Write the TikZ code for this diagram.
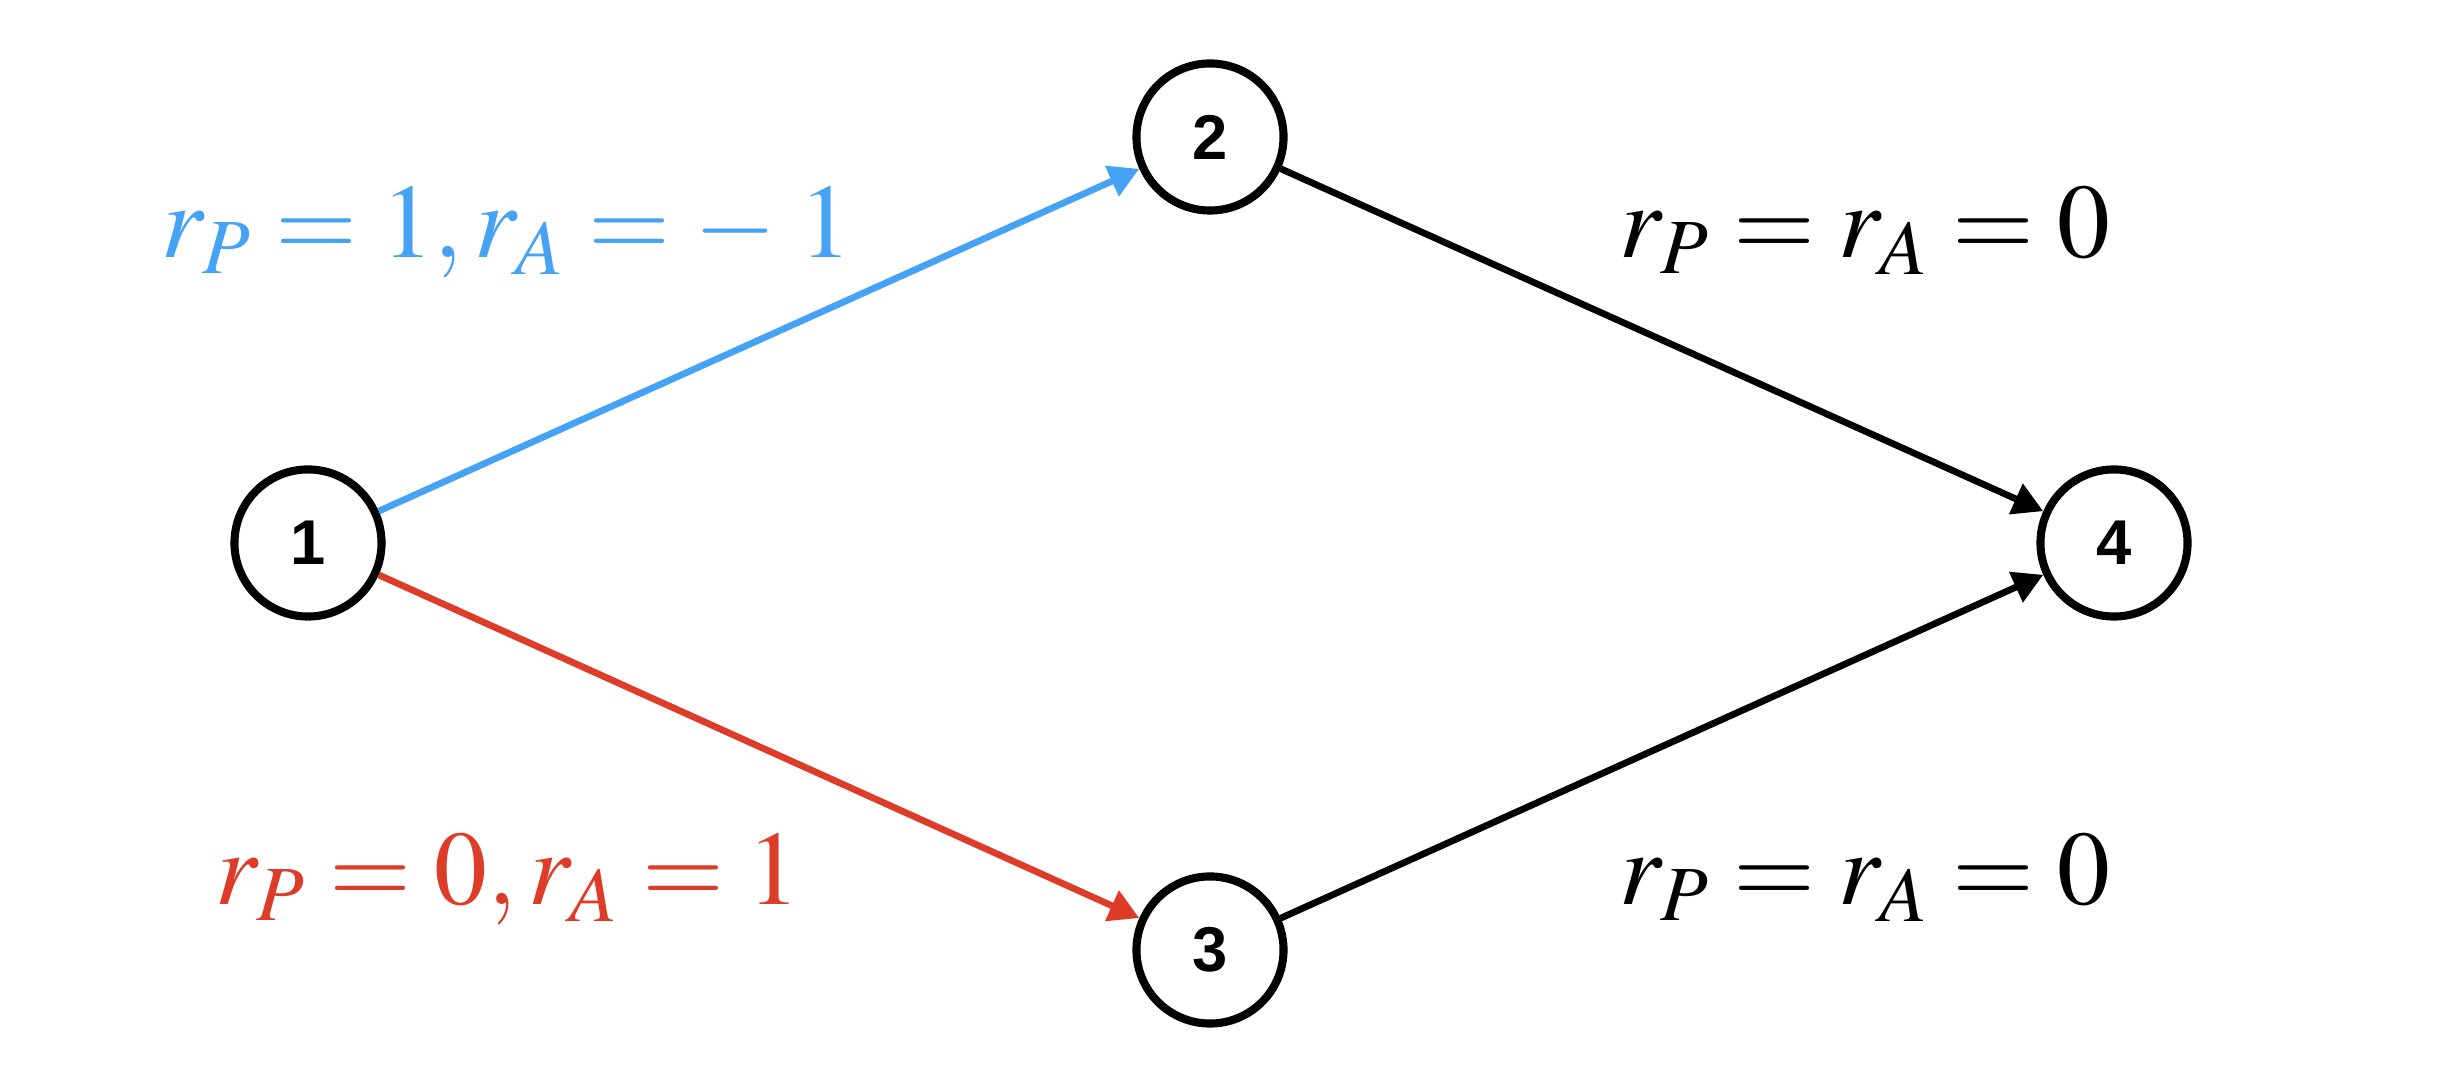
\documentclass[tikz,border=0pt]{standalone}
\usepackage{mathptmx}
\usepackage{fontspec}
\newfontfamily\nodefont{Liberation Sans}
\usetikzlibrary{arrows.meta}
\definecolor{eblue}{RGB}{70,162,245}
\definecolor{ered}{RGB}{220,60,40}
\begin{document}
\begin{tikzpicture}[x=0.01cm,y=-0.01cm,
  state/.style={circle,draw=black,line width=2.3pt,minimum size=1.47cm,inner sep=0pt,
    font=\nodefont\bfseries\fontsize{18}{21}\selectfont},
  edge/.style={line width=1.9pt,-{Triangle[length=0.3cm,width=0.32cm]}},
  lab/.style={anchor=base,inner sep=0pt,font=\fontsize{30}{36}\selectfont}]
\useasboundingbox (0,0) rectangle (2462,1086);
\node[state] (n1) at (308,543) {1};
\node[state] (n2) at (1210,137) {2};
\node[state] (n3) at (1210,950) {3};
\node[state] (n4) at (2114,543) {4};
\draw[edge,eblue] (n1) -- (n2);
\draw[edge,ered] (n1) -- (n3);
\draw[edge,black] (n2) -- (n4);
\draw[edge,black] (n3) -- (n4);
\node[lab,text=eblue] (l12) at (507,258) {$r_P = 1, r_A = -\mskip\thickmuskip 1$};
\node[lab,text=ered] (l13) at (508,905) {$r_P = 0, r_A = 1$};
\node[lab] (l24) at (1865,258) {$r_P = r_A = 0$};
\node[lab] (l34) at (1865,905) {$r_P = r_A = 0$};
\end{tikzpicture}
\end{document}
